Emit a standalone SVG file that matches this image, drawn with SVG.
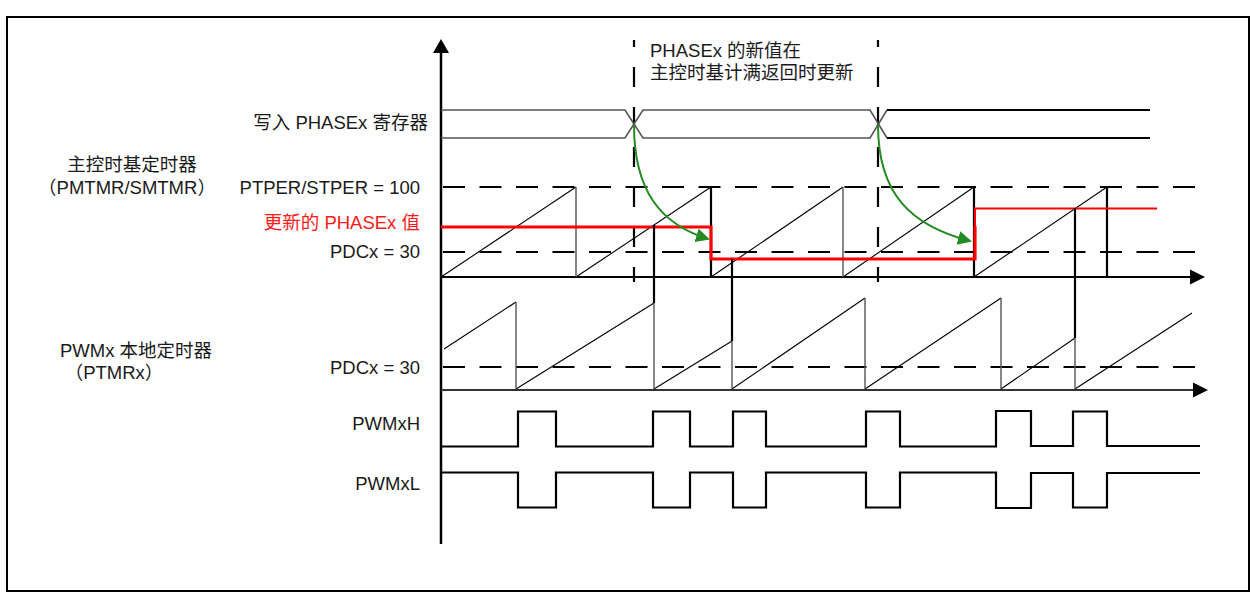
<svg xmlns="http://www.w3.org/2000/svg" width="1250" height="592" viewBox="0 0 1250 592">
<style>
text{font-family:"Liberation Sans","Noto Sans CJK SC",sans-serif;font-size:18.5px;fill:#1a1a1a}
.r{text-anchor:end}
.red{fill:#ff1a1a}
.dash{stroke:#000;stroke-width:2;stroke-dasharray:22 14.5;fill:none}
.vdash{stroke:#000;stroke-width:2.2;stroke-dasharray:20 20;stroke-dashoffset:13;fill:none}
.saw{stroke:#000;stroke-width:1.1;fill:none}
.drop{stroke:#555;stroke-width:1.4;fill:none}
.blk{stroke:#000;stroke-width:2.2;fill:none}
.wave{stroke:#000;stroke-width:2.2;fill:none;stroke-linejoin:miter}
.bus{stroke:#555;stroke-width:1.6;fill:none}
.busb{stroke:#000;stroke-width:1.8;fill:none}
.grn{stroke:#228b22;stroke-width:2;fill:none;marker-end:url(#ga)}
</style>
<defs>
<marker id="ga" markerWidth="16" markerHeight="16" refX="12" refY="7" orient="auto" markerUnits="userSpaceOnUse">
<path d="M0,0 L14,7 L0,14 z" fill="#228b22"/>
</marker>
</defs>
<rect x="7" y="17" width="1242" height="574" fill="#fff" stroke="#000" stroke-width="2"/>

<g id="axes">
<line x1="441" y1="52" x2="441" y2="544" stroke="#000" stroke-width="2.5"/>
<path d="M433,53 L441,39 L449,53 z" fill="#000"/>
<line x1="441" y1="277" x2="1192" y2="277" stroke="#000" stroke-width="2.2"/>
<path d="M1190,269.5 L1205,277 L1190,284.5 z" fill="#000"/>
<line x1="441" y1="390" x2="1195" y2="390" stroke="#333" stroke-width="1.8"/>
<path d="M1193,382.5 L1208,390 L1193,397.5 z" fill="#000"/>
</g>

<g id="guides">
<line class="vdash" x1="634" y1="40" x2="634" y2="282"/>
<line class="vdash" x1="878" y1="40" x2="878" y2="282"/>
<line class="dash" x1="443" y1="187" x2="1196" y2="187"/>
<line class="dash" x1="443" y1="252" x2="1196" y2="252"/>
<line class="dash" x1="443" y1="367" x2="1196" y2="367"/>
</g>

<g id="phasex-bus">
<path class="bus" d="M441,110 H625 L643,138 H870 L887,110"/>
<path class="bus" d="M441,138 H625 L643,110 H870 L887,138"/>
<path class="busb" d="M887,110 H1150 M887,138 H1150"/>
</g>

<g id="master-timer">
<path class="saw" d="M441,277 L576,187 M576,277 L711,187 M711,277 L843,187 M843,277 L974,187 M974,277 L1107,187"/>
<path class="drop" d="M576,187 V277 M843,187 V277"/>
<path class="blk" d="M711,187 V277 M974,187 V277 M1107,187 V277"/>
</g>

<g id="phasex-value">
<path d="M441,227 H711 V259 H975 V226" fill="none" stroke="#ff0000" stroke-width="3.2"/>
<path d="M975,227 V208.5 H1157" fill="none" stroke="#ff0000" stroke-width="2"/>
</g>

<g id="local-timer">
<path class="saw" d="M444,349 L516,302 M516,389 L654,303 M654,389 L732,341 M732,389 L865,298 M865,389 L1001,298 M1001,389 L1075,338 M1075,389 L1192,313"/>
<path class="drop" d="M516,302 V389 M654,303 V389 M732,341 V389 M865,298 V389 M1001,298 V389 M1075,338 V389"/>
</g>

<g id="connectors">
<path class="blk" d="M654,225 V303 M732,259 V341 M1075,208 V338"/>
<path class="grn" d="M634,125 C634,190 660,224 708,239"/>
<path class="grn" d="M878,125 C878,195 912,226 970,241"/>
</g>

<g id="pwmxh">
<path class="wave" d="M441,446.5 H518 V411.5 H556 V446.5 H653 V411.5 H690 V446.5 H733 V411.5 H766 V446.5 H866 V411.5 H900 V446.5 H996 V411 H1031 V446 H1073 V411.5 H1107 V446 H1200"/>
</g>
<g id="pwmxl">
<path class="wave" d="M441,472.5 H518 V507.5 H556 V472.5 H653 V507.5 H690 V472.5 H733 V507.5 H766 V472.5 H866 V507.5 H900 V472.5 H996 V508 H1031 V473 H1073 V507.5 H1107 V473 H1200"/>
</g>

<g id="labels">
<text class="r" x="428" y="129">写入 PHASEx 寄存器</text>
<text x="650" y="57">PHASEx 的新值在</text>
<text x="650" y="79">主控时基计满返回时更新</text>
<text x="132" y="171" text-anchor="middle">主控时基定时器</text>
<text x="127" y="194" text-anchor="middle">（PMTMR/SMTMR）</text>
<text class="r" x="420" y="194">PTPER/STPER = 100</text>
<text class="r red" x="420" y="229">更新的 PHASEx 值</text>
<text class="r" x="420" y="258">PDCx = 30</text>
<text x="136" y="357" text-anchor="middle">PWMx 本地定时器</text>
<text x="114" y="379" text-anchor="middle">（PTMRx）</text>
<text class="r" x="420" y="374">PDCx = 30</text>
<text class="r" x="420" y="430">PWMxH</text>
<text class="r" x="420" y="490">PWMxL</text>
</g>
</svg>
